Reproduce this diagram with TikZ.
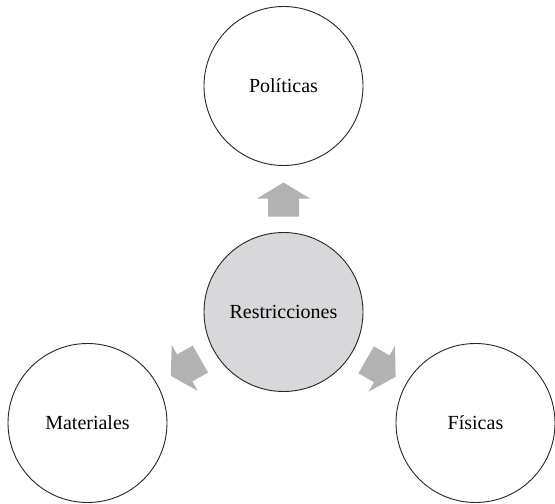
\documentclass[tikz,border=0pt]{standalone}
\usepackage{fontspec}
\setmainfont{Liberation Serif}
\usetikzlibrary{calc}
\definecolor{arrowgray}{HTML}{B2B2B2}
\definecolor{centergray}{HTML}{D8D7DA}
\tikzset{
  bubble/.style={circle, draw=black!85, line width=0.9pt, fill=white, minimum size=159pt, inner sep=0pt, font=\fontsize{20}{24}\selectfont},
  hub/.style={bubble, fill=centergray},
  blockfill/.style={fill=arrowgray, draw=none}
}
\newcommand\blockarrow[3]{%
  \coordinate (#3tail) at ($(#1.center)!95.5pt!(#2.center)$);
  \coordinate (#3hb) at ($(#1.center)!113.5pt!(#2.center)$);
  \coordinate (#3tip) at ($(#1.center)!129.5pt!(#2.center)$);
  \path[blockfill]
    ($(#3tail)!15.5pt!90:(#2.center)$) --
    ($(#3hb)!15.5pt!90:(#2.center)$) --
    ($(#3hb)!26.5pt!90:(#2.center)$) --
    (#3tip) --
    ($(#3hb)!26.5pt!-90:(#2.center)$) --
    ($(#3hb)!15.5pt!-90:(#2.center)$) --
    ($(#3tail)!15.5pt!-90:(#2.center)$) -- cycle;
}
\begin{document}
\begin{tikzpicture}[x=1pt,y=-1pt]
  \useasboundingbox (0,0) rectangle (555,504);
  \node[hub] (c) at (283.5,312) {Restricciones};
  \node[bubble] (p) at (283.5,86) {Políticas};
  \node[bubble] (m) at (87.5,423) {Materiales};
  \node[bubble] (f) at (475.5,423) {Físicas};
  \blockarrow{c}{p}{ap}
  \blockarrow{c}{m}{am}
  \blockarrow{c}{f}{af}
\end{tikzpicture}
\end{document}
